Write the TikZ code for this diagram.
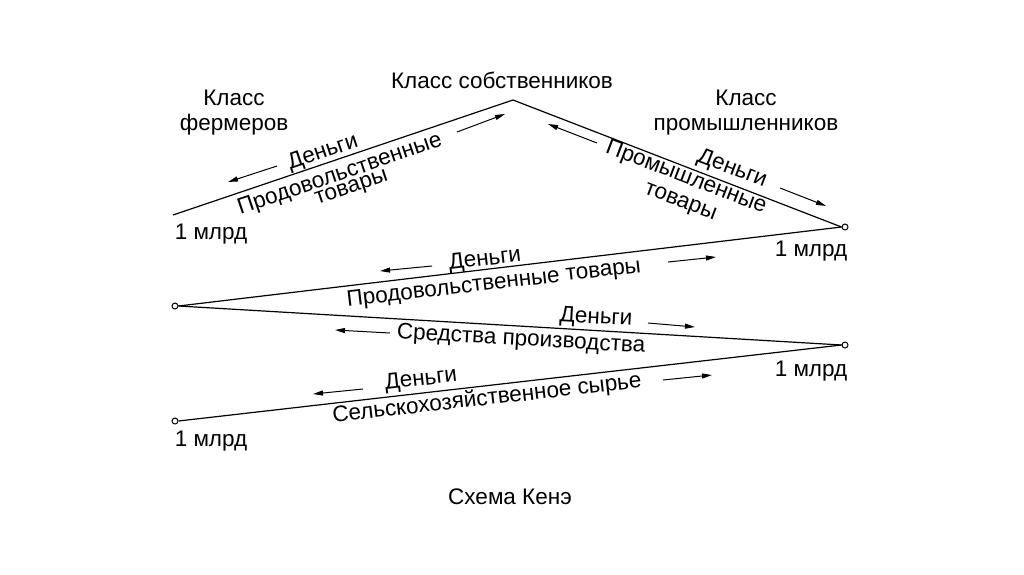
\documentclass[tikz,border=0pt]{standalone}
\usepackage{fontspec}
\setmainfont{Liberation Sans}
\usetikzlibrary{arrows.meta}
\tikzset{
  lbl/.style={inner sep=0pt, font=\fontsize{22.5}{25}\selectfont, align=center},
  mainline/.style={line width=1.2pt, line join=round},
  flow/.style={line width=1pt, -{Triangle[length=10pt,width=5pt]}},
  dot/.style={circle, draw, line width=1pt, fill=white, inner sep=0pt, minimum size=6pt}
}
\begin{document}
\begin{tikzpicture}[x=1pt,y=-1pt]
\useasboundingbox[fill=white] (0,0) rectangle (1024,574);
% points
\coordinate (L1) at (173,215);
\coordinate (A) at (513,100);
\node[dot] (R1) at (845,227) {};
\node[dot] (M1) at (175,306) {};
\node[dot] (R2) at (845,345) {};
\node[dot] (B) at (175,421) {};
% main lines
\draw[mainline] (L1) -- (A) -- (R1.west);
\draw[mainline] (R1.west) -- (M1.east);
\draw[mainline] (M1.east) -- (R2.west);
\draw[mainline] (R2.west) -- (B.east);
% class labels
\node[lbl] (own) at (502,80) {Класс собственников};
\node[lbl] (farm) at (234,113) {Класс\\фермеров};
\node[lbl] (ind) at (746,113) {Класс\\промышленников};
\node[lbl] (m1) at (211,234) {1 млрд};
\node[lbl] (m2) at (811,251) {1 млрд};
\node[lbl] (m3) at (811,371) {1 млрд};
\node[lbl] (m4) at (211,441) {1 млрд};
\node[lbl] (title) at (510,497) {Схема Кенэ};
% top-left line
\node[lbl, rotate=18.7] (tlm) at (323,153) {Деньги};
\node[lbl, rotate=18.7] (tlg1) at (340,175) {Продовольственные};
\node[lbl, rotate=18.7] (tlg2) at (352,189) {товары};
\coordinate (a1s) at (277,166); \coordinate (a1e) at (228,182);
\coordinate (a2s) at (457,132); \coordinate (a2e) at (505,114);
\draw[flow] (a1s) -- (a1e);
\draw[flow] (a2s) -- (a2e);
% top-right line
\node[lbl, rotate=-20.9] (trg1) at (686,178) {Промышленные};
\node[lbl, rotate=-20.9] (trg2) at (680,203) {товары};
\node[lbl, rotate=-20.9] (trm) at (732,169) {Деньги};
\coordinate (a3s) at (597,143); \coordinate (a3e) at (548,124);
\coordinate (a4s) at (780,188); \coordinate (a4e) at (826,206);
\draw[flow] (a3s) -- (a3e);
\draw[flow] (a4s) -- (a4e);
% middle line 1
\node[lbl, rotate=6.7] (m1m) at (485,260) {Деньги};
\node[lbl, rotate=6.7] (m1g) at (494,284) {Продовольственные товары};
\coordinate (a5s) at (432,266); \coordinate (a5e) at (380,271);
\coordinate (a6s) at (668,262); \coordinate (a6e) at (716,257);
\draw[flow] (a5s) -- (a5e);
\draw[flow] (a6s) -- (a6e);
% middle line 2
\node[lbl, rotate=-3.3] (m2m) at (596,318) {Деньги};
\node[lbl, rotate=-3.3] (m2g) at (521,340) {Средства производства};
\coordinate (a7s) at (648,323); \coordinate (a7e) at (695,327);
\coordinate (a8s) at (390,333); \coordinate (a8e) at (335,330);
\draw[flow] (a7s) -- (a7e);
\draw[flow] (a8s) -- (a8e);
% bottom line
\node[lbl, rotate=6.5] (bm) at (421,380) {Деньги};
\node[lbl, rotate=6.5] (bg) at (487,399) {Сельскохозяйственное сырье};
\coordinate (a9s) at (363,389); \coordinate (a9e) at (313,394);
\coordinate (a10s) at (663,380); \coordinate (a10e) at (712,375);
\draw[flow] (a9s) -- (a9e);
\draw[flow] (a10s) -- (a10e);
\end{tikzpicture}
\end{document}
